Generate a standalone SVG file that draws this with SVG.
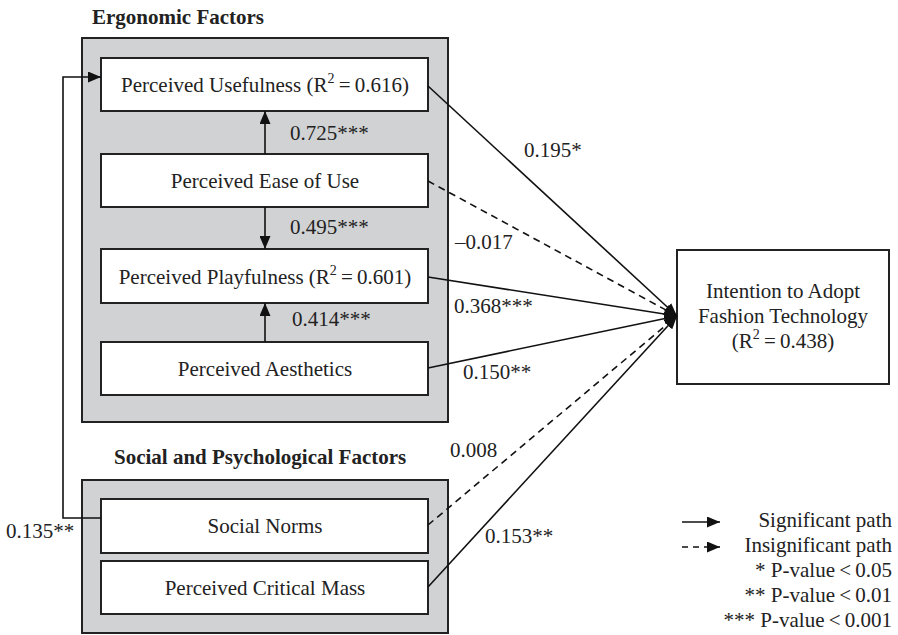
<svg xmlns="http://www.w3.org/2000/svg" width="898" height="635" viewBox="0 0 898 635">
<defs>
<marker id="ah" markerWidth="13" markerHeight="11" refX="13" refY="5.5" orient="auto" markerUnits="userSpaceOnUse"><path d="M0,0 L13,5.5 L0,11 z" fill="#111" stroke="none"/></marker>
</defs>
<style>
text{font-family:"Liberation Serif","Times New Roman",serif;font-size:21px;fill:#222}
.title{font-weight:bold}
.grp{fill:#d1d2d4;stroke:#222;stroke-width:2}
.box{fill:#fff;stroke:#222;stroke-width:2}
.c{stroke:#111;stroke-width:1.6;fill:none}
.d{stroke-dasharray:7,5}
.mid{text-anchor:middle}
.end{text-anchor:end}
.sup{font-size:14px}
</style>
<rect width="898" height="635" fill="#fff"/>

<g id="ergonomic">
<text class="title" x="92" y="24">Ergonomic Factors</text>
<rect class="grp" x="82" y="38" width="366" height="384"/>
</g>
<g id="social">
<text class="title" x="114" y="464">Social and Psychological Factors</text>
<rect class="grp" x="82" y="480" width="366" height="153"/>
</g>

<g id="pu"><rect class="box" x="101" y="58" width="327" height="53"/><text class="mid" x="265" y="92">Perceived Usefulness (R<tspan class="sup" dy="-9">2</tspan><tspan dy="9">&#8201;=&#8201;0.616)</tspan></text></g>
<g id="peou"><rect class="box" x="101" y="154" width="327" height="53"/><text class="mid" x="265" y="188">Perceived Ease of Use</text></g>
<g id="pp"><rect class="box" x="101" y="249" width="327" height="54"/><text class="mid" x="265" y="284">Perceived Playfulness (R<tspan class="sup" dy="-9">2</tspan><tspan dy="9">&#8201;=&#8201;0.601)</tspan></text></g>
<g id="pa"><rect class="box" x="101" y="342" width="327" height="53"/><text class="mid" x="265" y="376">Perceived Aesthetics</text></g>
<g id="sn"><rect class="box" x="101" y="499" width="327" height="54"/><text class="mid" x="265" y="533">Social Norms</text></g>
<g id="pcm"><rect class="box" x="101" y="561" width="327" height="53"/><text class="mid" x="265" y="595">Perceived Critical Mass</text></g>
<g id="intention"><rect class="box" x="677" y="250" width="212" height="134"/>
<text class="mid" x="783" y="298">Intention to Adopt</text>
<text class="mid" x="783" y="323">Fashion Technology</text>
<text class="mid" x="783" y="348">(R<tspan class="sup" dy="-9">2</tspan><tspan dy="9">&#8201;=&#8201;0.438)</tspan></text></g>

<g id="connectors">
<line class="c" x1="265" y1="154" x2="265" y2="111" marker-end="url(#ah)"/>
<line class="c" x1="265" y1="207" x2="265" y2="249" marker-end="url(#ah)"/>
<line class="c" x1="265" y1="342" x2="265" y2="303" marker-end="url(#ah)"/>
<polyline class="c" points="101,518 63,518 63,77 101,77" marker-end="url(#ah)"/>
<line class="c" x1="428" y1="86" x2="677" y2="316" marker-end="url(#ah)"/>
<line class="c d" x1="428" y1="181" x2="677" y2="316" marker-end="url(#ah)"/>
<line class="c" x1="428" y1="277" x2="677" y2="316" marker-end="url(#ah)"/>
<line class="c" x1="428" y1="368" x2="677" y2="316" marker-end="url(#ah)"/>
<line class="c d" x1="428" y1="525" x2="677" y2="316" marker-end="url(#ah)"/>
<line class="c" x1="428" y1="587" x2="677" y2="316" marker-end="url(#ah)"/>
</g>

<g id="labels">
<text x="290" y="140">0.725***</text>
<text x="290" y="234">0.495***</text>
<text x="292" y="326">0.414***</text>
<text x="6" y="538">0.135**</text>
<text x="524" y="157">0.195*</text>
<text x="455" y="249">&#8211;0.017</text>
<text x="454" y="313">0.368***</text>
<text x="463" y="379">0.150**</text>
<text x="450" y="457">0.008</text>
<text x="485" y="543">0.153**</text>
</g>

<g id="legend">
<line class="c" x1="682" y1="522" x2="720" y2="522" marker-end="url(#ah)"/>
<line class="c" x1="682" y1="547" x2="720" y2="547" stroke-dasharray="6,5" marker-end="url(#ah)"/>
<text class="end" x="892" y="527">Significant path</text>
<text class="end" x="892" y="552">Insignificant path</text>
<text class="end" x="892" y="577">* P-value&#8201;&lt;&#8201;0.05</text>
<text class="end" x="892" y="602">** P-value&#8201;&lt;&#8201;0.01</text>
<text class="end" x="892" y="627">*** P-value&#8201;&lt;&#8201;0.001</text>
</g>
</svg>
